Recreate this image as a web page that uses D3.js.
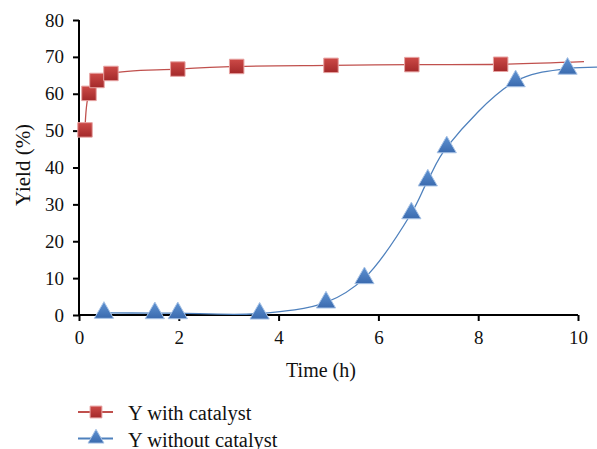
<!DOCTYPE html>
<html><head><meta charset="utf-8">
<script src="https://cdn.jsdelivr.net/npm/d3@7"></script>
<style>body{margin:0;background:#fff}svg{display:block}</style>
</head><body><svg id="c" width="597" height="449" font-family="Liberation Serif"></svg>
<script>
// Data
const withTime  = [0.12, 0.2, 0.36, 0.64, 1.98, 3.16, 5.05, 6.67, 8.45];
const withYield = [50.2, 60.1, 63.6, 65.5, 66.7, 67.4, 67.7, 67.9, 68.0];
const withLineEnd = [10.12, 68.7];
const withoutTime  = [0.5, 1.52, 1.98, 3.62, 4.95, 5.72, 6.66, 6.99, 7.37, 8.75, 9.79];
const withoutYield = [0.6, 0.5, 0.5, 0.4, 3.4, 10.0, 27.6, 36.5, 45.5, 63.4, 66.8];
const withoutLineEnd = [10.5, 67.2];
const xTicks = [0, 2, 4, 6, 8, 10];
const yTicks = [0, 10, 20, 30, 40, 50, 60, 70, 80];
const seriesNames = ["Y with catalyst", "Y without catalyst"];
const xTitle = "Time (h)", yTitle = "Yield (%)";

const FONT = "Liberation Serif";
const svg = d3.select("#c");
const x = d3.scaleLinear().domain([0, 10]).range([79, 578]);
const y = d3.scaleLinear().domain([0, 80]).range([315, 20]);

const defs = svg.append("defs");
const gR = defs.append("linearGradient").attr("id","gR").attr("x1",0).attr("y1",0).attr("x2",0).attr("y2",1);
gR.append("stop").attr("offset","0%").attr("stop-color","#cd4a47");
gR.append("stop").attr("offset","100%").attr("stop-color","#a3292a");
const gB = defs.append("linearGradient").attr("id","gB").attr("x1",0).attr("y1",0).attr("x2",0).attr("y2",1);
gB.append("stop").attr("offset","0%").attr("stop-color","#5f93d3");
gB.append("stop").attr("offset","100%").attr("stop-color","#3a6aae");

// Axes
const yAxis = svg.append("g").attr("transform","translate(79,0)")
  .call(d3.axisLeft(y).tickValues(yTicks).tickSize(6).tickPadding(9));
const xAxis = svg.append("g").attr("transform","translate(0,315)")
  .call(d3.axisBottom(x).tickValues(xTicks).tickSize(6).tickPadding(10));
[xAxis, yAxis].forEach(a => {
  a.attr("font-family", FONT).attr("font-size", 19);
  a.select(".domain").attr("stroke","#000").attr("stroke-width",2);
  a.selectAll(".tick line").attr("stroke","#000").attr("stroke-width",2);
  a.selectAll(".tick text").attr("font-family", FONT).attr("font-size",19).attr("fill","#111");
});
yAxis.select(".domain").attr("d","M0,316V20");
xAxis.select(".domain").attr("d","M78,0H578");

svg.append("text").attr("x",321).attr("y",377).attr("text-anchor","middle")
  .attr("font-family",FONT).attr("font-size",20).attr("fill","#111").text(xTitle);
svg.append("text").attr("transform","translate(30,165) rotate(-90)").attr("text-anchor","middle")
  .attr("font-family",FONT).attr("font-size",21).attr("fill","#111").text(yTitle);

const line = d3.line().x(d=>x(d[0])).y(d=>y(d[1])).curve(d3.curveCatmullRom.alpha(0.5));
const withPts = withTime.map((t,i)=>[t, withYield[i]]);
const withoutPts = withoutTime.map((t,i)=>[t, withoutYield[i]]);

svg.append("path").attr("d", line(withPts.concat([withLineEnd]))).attr("fill","none").attr("stroke","#c0504d").attr("stroke-width",1.3);
svg.append("path").attr("d", line(withoutPts.concat([withoutLineEnd]))).attr("fill","none").attr("stroke","#4f81bd").attr("stroke-width",1.3);

const sq = d3.symbol().type(d3.symbolSquare).size(210);
const tri = d3.symbol().type(d3.symbolTriangle).size(160);

svg.append("g").selectAll("path").data(withoutPts).join("path")
  .attr("transform", d=>`translate(${x(d[0])},${y(d[1])})`).attr("d", tri)
  .attr("fill","url(#gB)").attr("stroke","#a8c3e6").attr("stroke-width",1);
svg.append("g").selectAll("path").data(withPts).join("path")
  .attr("transform", d=>`translate(${x(d[0])},${y(d[1])})`).attr("d", sq)
  .attr("fill","url(#gR)").attr("stroke","#e7a3a2").attr("stroke-width",1);

// Legend
const leg = svg.append("g");
const legItems = [
  {name: seriesNames[0], color:"#c0504d", sym: d3.symbol().type(d3.symbolSquare).size(140), fill:"url(#gR)", stroke:"#e7a3a2"},
  {name: seriesNames[1], color:"#4f81bd", sym: d3.symbol().type(d3.symbolTriangle).size(110), fill:"url(#gB)", stroke:"#a8c3e6"}
];
legItems.forEach((it,i)=>{
  const yy = 412 + i*26.5;
  leg.append("line").attr("x1",78).attr("x2",113).attr("y1",yy).attr("y2",yy).attr("stroke",it.color).attr("stroke-width",2);
  leg.append("path").attr("transform",`translate(96,${yy})`).attr("d",it.sym).attr("fill",it.fill).attr("stroke",it.stroke);
  leg.append("text").attr("x",128).attr("y",yy+8).attr("font-family",FONT).attr("font-size",20.5).attr("fill","#111").text(it.name);
});
</script></body></html>
